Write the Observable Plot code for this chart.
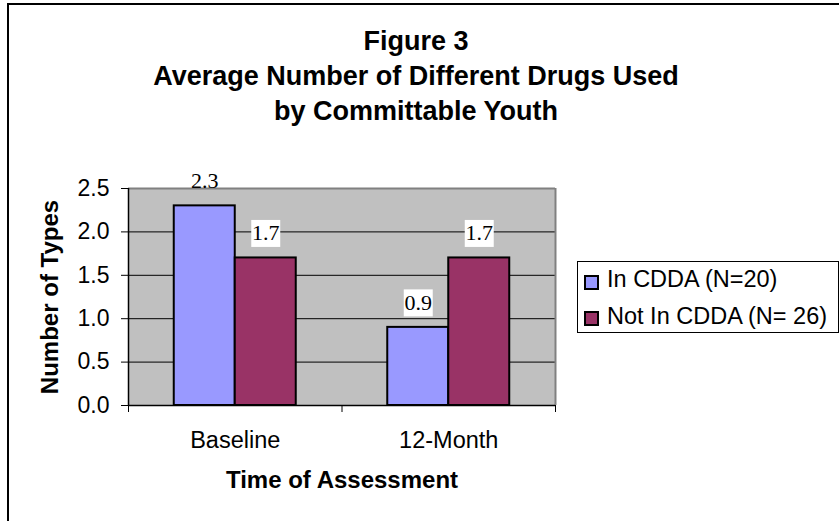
<!DOCTYPE html>
<html>
<head>
<meta charset="utf-8">
<script src="https://cdn.jsdelivr.net/npm/d3@7"></script>
<script src="https://cdn.jsdelivr.net/npm/@observablehq/plot@0.6"></script>
<style>
  html, body { margin: 0; padding: 0; background: white; overflow: hidden; }
  #wrap { position: relative; width: 839px; height: 521px; overflow: hidden; font-family: "Liberation Sans", Arial, sans-serif; color: black; }
  #border { position: absolute; left: 7px; top: 3px; width: 900px; height: 600px; border: 2px solid black; box-sizing: border-box; }
  #title { position: absolute; left: 0; top: 23.6px; width: 832px; text-align: center; font-weight: bold; font-size: 27px; line-height: 35px; }
  #legend { position: absolute; left: 577px; top: 261px; width: 262px; height: 72px; border: 1px solid black; box-sizing: border-box; background: white; }
  .sw { position: absolute; width: 15px; height: 15px; border: 2px solid black; box-sizing: border-box; }
  .lt { position: absolute; font-size: 23.5px; line-height: 23.5px; white-space: nowrap; }
  #chart { position: absolute; left: 0; top: 0; }
</style>
</head>
<body>
<div id="wrap">
  <div id="chart"></div>
  <div id="border"></div>
  <div id="title"></div>
  <div id="legend"></div>
</div>
<script>
// ---- data ----
const titleLines = ["Figure 3", "Average Number of Different Drugs Used", "by Committable Youth"];
const groups = ["Baseline", "12-Month"];
const seriesNames = ["In CDDA (N=20)", "Not In CDDA (N= 26)"];
const inCDDA = [2.3, 0.9];
const notInCDDA = [1.7, 1.7];
const yTicks = [0, 0.5, 1.0, 1.5, 2.0, 2.5];
const seriesColors = ["#9999FF", "#993366"];
const xLabel = "Time of Assessment";
const yLabel = "Number of Types";

// ---- layout / style ----
const W = 839, H = 521;
const mL = 128, mR = 284, mT = 188, mB = 116;
const gapWidth = 1.5; // Excel gap width 150%
const seriesValues = [inCDDA, notInCDDA];
const nS = seriesValues.length;
const slot = 1 / (nS + gapWidth);

const data = groups.flatMap((g, gi) =>
  seriesValues.map((vals, si) => ({group: g, series: seriesNames[si], gi, si, value: vals[gi]})));
const x1 = d => d.gi + (gapWidth / 2 + d.si) * slot;
const x2 = d => x1(d) + slot;
const xc = d => x1(d) + slot / 2;

const labelDy = -24.5, boxW = 29, boxH = 27;
const yMax = yTicks[yTicks.length - 1];
const pxPerUnit = (H - mT - mB) / yMax;
const boxData = data.filter(d => d.value + (-labelDy + boxH / 2) / pxPerUnit <= yMax);
const labelBox = {draw(ctx) { ctx.rect(-boxW / 2, -boxH / 2, boxW, boxH); }};

const chart = Plot.plot({
  width: W, height: H,
  marginLeft: mL, marginRight: mR, marginTop: mT, marginBottom: mB,
  x: {domain: [0, groups.length]},
  y: {domain: [0, yMax]},
  color: {domain: seriesNames, range: seriesColors},
  style: {background: "transparent", color: "black", fontFamily: "'Liberation Sans', Arial, sans-serif"},
  marks: [
    Plot.frame({fill: "#C0C0C0", stroke: null}),
    Plot.ruleY(yTicks.filter(t => t > 0 && t < yMax), {stroke: "black", strokeWidth: 1}),
    Plot.rect(data, {x1, x2, y1: 0, y2: "value", fill: "series", stroke: "black", strokeWidth: 2}),
    Plot.dot(boxData, {x: xc, y: "value", dy: labelDy, symbol: labelBox, fill: "white", stroke: null}),
    Plot.ruleY([yMax], {stroke: "#808080", strokeWidth: 2}),
    Plot.ruleX([groups.length], {stroke: "#808080", strokeWidth: 2}),
    Plot.ruleX([0], {stroke: "black", strokeWidth: 1.5}),
    Plot.ruleY([0], {stroke: "black", strokeWidth: 1.5}),
    Plot.axisY({ticks: yTicks, tickSize: 7, tickPadding: 12, tickFormat: d3.format(".1f"), fontSize: 23, label: null}),
    Plot.axisX({ticks: d3.range(groups.length + 1), tickSize: 7, tickFormat: () => "", label: null}),
    Plot.axisX({ticks: groups.map((g, i) => i + 0.5), tickSize: 0, tickPadding: 26.3, tickFormat: d => groups[Math.floor(d)], fontSize: 23.5, label: null}),
    Plot.text(data, {x: xc, y: "value", dy: labelDy, text: d => d3.format(".1f")(d.value),
      fontFamily: "'Liberation Serif', 'Times New Roman', serif", fontSize: 22, fill: "black"}),
    Plot.text([yLabel], {frameAnchor: "left", textAnchor: "middle", lineAnchor: "middle", rotate: -90, dx: -77.7,
      fontWeight: "bold", fontSize: 24, fill: "black"}),
    Plot.text([xLabel], {frameAnchor: "bottom", textAnchor: "middle", lineAnchor: "middle", dy: 75.3,
      fontWeight: "bold", fontSize: 24, fill: "black"})
  ]
});
document.getElementById("chart").appendChild(chart);

// title
document.getElementById("title").innerHTML = titleLines.map(t => `<div>${t}</div>`).join("");

// legend
const legend = document.getElementById("legend");
const swTops = [13, 49], textBaselines = [26, 63];
seriesNames.forEach((name, i) => {
  const sw = document.createElement("div");
  sw.className = "sw";
  sw.style.left = "6px";
  sw.style.top = swTops[i] + "px";
  sw.style.background = seriesColors[i];
  legend.appendChild(sw);
  const t = document.createElement("div");
  t.className = "lt";
  t.style.left = "29px";
  t.style.top = (textBaselines[i] - 19.9) + "px";
  t.textContent = name;
  legend.appendChild(t);
});
</script>
</body>
</html>
